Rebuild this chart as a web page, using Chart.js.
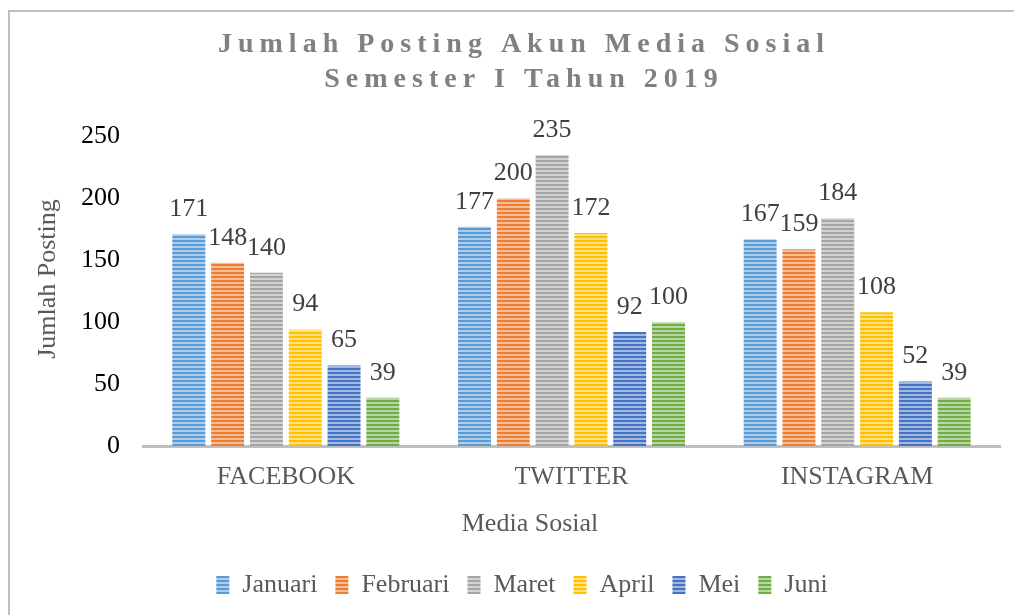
<!DOCTYPE html>
<html>
<head>
<meta charset="utf-8">
<script src="https://cdn.jsdelivr.net/npm/chart.js@4.4.1/dist/chart.umd.min.js"></script>
<style>
  html, body { margin: 0; padding: 0; background: #fff; }
  #wrap { width: 1014px; height: 615px; position: relative; }
</style>
</head>
<body>
<div id="wrap"><canvas id="chart"></canvas></div>
<script>
/* ── Data ── */
const categories = ['FACEBOOK', 'TWITTER', 'INSTAGRAM'];
const months     = ['Januari', 'Februari', 'Maret', 'April', 'Mei', 'Juni'];
const januari    = [171, 177, 167];
const februari   = [148, 200, 159];
const maret      = [140, 235, 184];
const april      = [94, 172, 108];
const mei        = [65, 92, 52];
const juni       = [39, 100, 39];
const yTicks     = [0, 50, 100, 150, 200, 250];

const titleLines = ['Jumlah Posting Akun Media Sosial', 'Semester I Tahun 2019'];
const xTitle = 'Media Sosial';
const yTitle = 'Jumlah Posting';

const SERIF = "'Liberation Serif', 'Times New Roman', serif";

const COLORS = ['#5b9bd5', '#ed7d31', '#a5a5a5', '#ffc000', '#4472c4', '#70ad47'];

/* ── Striped fill (horizontal lines) ── */
function tint(hex, amt) {
  const n = parseInt(hex.slice(1), 16);
  const r = n >> 16, g = (n >> 8) & 255, b = n & 255;
  const m = v => Math.round(v + (255 - v) * amt);
  return `rgb(${m(r)},${m(g)},${m(b)})`;
}
function stripes(color) {
  const c = document.createElement('canvas');
  c.width = 4; c.height = 4;
  const x = c.getContext('2d');
  x.fillStyle = tint(color, 0.5);
  x.fillRect(0, 0, 4, 4);
  x.fillStyle = color;
  x.fillRect(0, 0, 4, 2);
  return x.createPattern(c, 'repeat');
}

const series = [januari, februari, maret, april, mei, juni];

/* ── Decorations: border, title, axis titles, value labels ── */
const deco = {
  id: 'deco',
  beforeDraw(chart) {
    const ctx = chart.ctx;
    ctx.save();
    ctx.strokeStyle = '#bfbfbf';
    ctx.lineWidth = 2;
    ctx.strokeRect(9, 11, 2000, 2000);
    ctx.restore();
  },
  afterDatasetsDraw(chart) {
    const ctx = chart.ctx;
    ctx.save();
    ctx.font = `26px ${SERIF}`;
    ctx.fillStyle = '#404040';
    ctx.textAlign = 'center';
    ctx.textBaseline = 'middle';
    chart.data.datasets.forEach((ds, i) => {
      chart.getDatasetMeta(i).data.forEach((bar, j) => {
        ctx.fillText(String(ds.data[j]), bar.x, bar.y - 25);
      });
    });
    ctx.restore();
  },
  afterDraw(chart) {
    const ctx = chart.ctx;
    ctx.save();
    // main title, letter-spaced
    ctx.font = `bold 28px ${SERIF}`;
    ctx.fillStyle = '#808080';
    ctx.textAlign = 'center';
    ctx.textBaseline = 'middle';
    ctx.letterSpacing = '6px';
    ctx.fillText(titleLines[0], 523 + 1, 45);
    ctx.fillText(titleLines[1], 523 + 1, 80);
    ctx.letterSpacing = '0px';
    // axis titles
    ctx.font = `26px ${SERIF}`;
    ctx.fillStyle = '#595959';
    ctx.fillText(xTitle, 530, 524);
    ctx.translate(48, 279);
    ctx.rotate(-Math.PI / 2);
    ctx.fillText(yTitle, 0, 0);
    ctx.restore();
  }
};

new Chart(document.getElementById('chart'), {
  type: 'bar',
  data: {
    labels: categories,
    datasets: months.map((m, i) => ({
      label: m,
      data: series[i],
      backgroundColor: stripes(COLORS[i]),
      borderWidth: 0,
      categoryPercentage: 0.815,
      barPercentage: 0.85,
    }))
  },
  options: {
    responsive: true,
    maintainAspectRatio: false,
    animation: false,
    layout: { padding: { top: 136.5, left: 44, right: 14, bottom: 7 } },
    plugins: {
      legend: {
        position: 'bottom',
        labels: {
          boxWidth: 13,
          boxHeight: 18,
          padding: 18,
          color: '#595959',
          font: { family: SERIF, size: 26 },
        }
      },
      tooltip: { enabled: false },
    },
    scales: {
      x: {
        grid: { display: false, drawTicks: false },
        border: { display: true, color: '#bfbfbf', width: 3 },
        ticks: { color: '#595959', padding: 16, font: { family: SERIF, size: 26 } },
        afterFit: s => { s.height = 108; },
      },
      y: {
        min: 0,
        max: yTicks[yTicks.length - 1],
        grid: { display: false, drawTicks: false },
        border: { display: false },
        afterBuildTicks: s => { s.ticks = yTicks.map(v => ({ value: v })); },
        ticks: { color: '#000', padding: 23, font: { family: SERIF, size: 26 } },
        afterFit: s => { s.width = 99; },
      }
    }
  },
  plugins: [deco]
});
</script>
</body>
</html>
